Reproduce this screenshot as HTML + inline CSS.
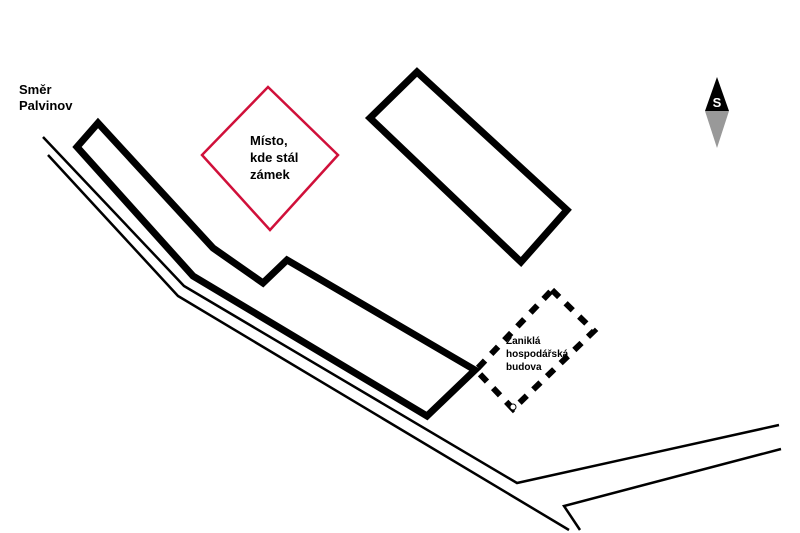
<!DOCTYPE html>
<html><head><meta charset="utf-8"><style>
html,body{margin:0;padding:0;background:#fff;}
svg{display:block;}
text{font-family:"Liberation Sans",sans-serif;font-weight:bold;fill:#000;}
</style></head><body>
<svg width="800" height="533" viewBox="0 0 800 533" xmlns="http://www.w3.org/2000/svg">
<!-- roads -->
<polyline points="43,137 184,286 517,483 779,425" fill="none" stroke="#000" stroke-width="2.5"/>
<polyline points="48,155 178,296 569,530" fill="none" stroke="#000" stroke-width="2.5"/>
<polyline points="580,530 564,506 781,449" fill="none" stroke="#000" stroke-width="2.5"/>
<!-- main building -->
<polygon points="98,123 213,248 263,283 287,260 475,370 427,416 193,276 77,147" fill="none" stroke="#000" stroke-width="7" stroke-linejoin="miter"/>
<!-- rectangle -->
<polygon points="370,118 417,72 567,210 521,262" fill="none" stroke="#000" stroke-width="7"/>
<!-- diamond -->
<polygon points="268,87 338,155 270,230 202,155" fill="none" stroke="#d0103a" stroke-width="2.5"/>
<text x="250" y="145" font-size="13">Místo,</text>
<text x="250" y="162" font-size="13">kde stál</text>
<text x="250" y="179" font-size="13">zámek</text>
<!-- dashed former building -->
<polygon points="552,290 594,331 513,409 476,370" fill="none" stroke="#000" stroke-width="6" stroke-dasharray="10,9"/>
<circle cx="513" cy="407" r="3" fill="#fff" stroke="#000" stroke-width="1"/>
<text x="506" y="344" font-size="10">Zaniklá</text>
<text x="506" y="357" font-size="10">hospodářská</text>
<text x="506" y="370" font-size="10">budova</text>
<!-- label -->
<text x="19" y="94" font-size="13">Směr</text>
<text x="19" y="110" font-size="13">Palvinov</text>
<!-- compass -->
<polygon points="717,77 729,111 705,111" fill="#000"/>
<polygon points="705,111 729,111 717,148" fill="#999"/>
<text x="717" y="107" font-size="13" text-anchor="middle" style="fill:#fff">S</text>
</svg>
</body></html>
